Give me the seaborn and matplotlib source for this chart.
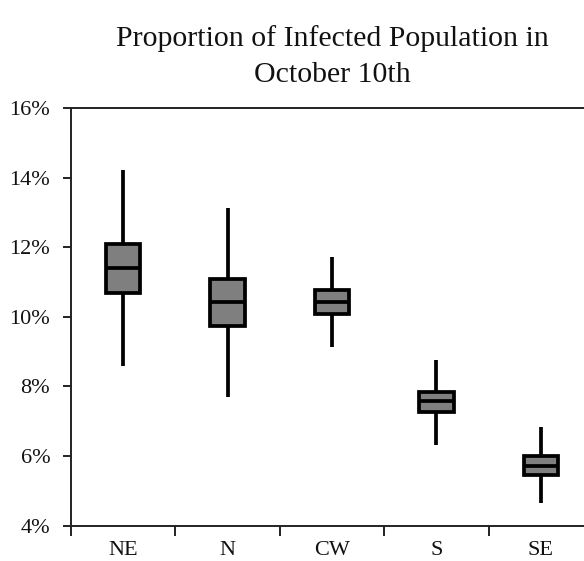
import matplotlib
matplotlib.use("Agg")
import matplotlib.pyplot as plt
import seaborn as sns
import pandas as pd
from matplotlib.ticker import FixedLocator, FuncFormatter

# Data (percent): five-number summaries
regions = ["NE", "N", "CW", "S", "SE"]
whisker_low = [8.60, 7.70, 9.14, 6.32, 4.64]
q1 = [10.67, 9.74, 10.08, 7.26, 5.45]
median = [11.41, 10.42, 10.43, 7.57, 5.72]
q3 = [12.09, 11.10, 10.77, 7.84, 6.00]
whisker_high = [14.22, 13.13, 11.71, 8.77, 6.82]
y_ticks = [4, 6, 8, 10, 12, 14, 16]
title = "Proportion of Infected Population in\nOctober 10th"

rows = []
for i, r in enumerate(regions):
    for v in (whisker_low[i], q1[i], median[i], q3[i], whisker_high[i]):
        rows.append({"region": r, "value": v})
df = pd.DataFrame(rows)

sns.set_style("white")
plt.rcParams["font.family"] = ["Liberation Serif", "DejaVu Serif"]

fig = plt.figure(figsize=(5.84, 5.61), dpi=100)
ax = fig.add_axes([71 / 584, 1 - 525.6 / 561, 522 / 584, (525.6 - 108) / 561])

lw = 2.7
sns.boxplot(data=df, x="region", y="value", order=regions, whis=(0, 100),
            width=0.33, color="#7f7f7f", saturation=1, linewidth=lw,
            linecolor="black", showcaps=False, showfliers=False, ax=ax,
            medianprops=dict(color="black", linewidth=lw),
            whiskerprops=dict(color="black", linewidth=lw),
            boxprops=dict(edgecolor="black", linewidth=lw))

ax.set_xlim(-0.5, len(regions) - 0.5)
ax.set_ylim(y_ticks[0], y_ticks[-1])
ax.yaxis.set_major_locator(FixedLocator(y_ticks))
ax.yaxis.set_major_formatter(FuncFormatter(lambda v, p: f"{v:.0f}%"))
ax.set_xlabel("")
ax.set_ylabel("")

ax.set_xticks(range(len(regions)))
ax.set_xticklabels(regions)
ax.set_xticks([i - 0.5 for i in range(len(regions) + 1)], minor=True)
ax.tick_params(axis="x", which="major", length=0, pad=11, labelsize=16, colors="#111111")
ax.tick_params(axis="x", which="minor", length=7, width=1.4, direction="out", color="#222222", bottom=True)
ax.tick_params(axis="y", which="major", length=6, width=1.4, direction="out", pad=9,
               labelsize=16, colors="#111111", left=True)
ax.tick_params(axis="y", colors="#222222")
for lbl in ax.get_yticklabels():
    lbl.set_color("#111111")

for s in ax.spines.values():
    s.set_visible(True)
    s.set_color("#222222")
    s.set_linewidth(1.4)

ax.set_title(title, fontsize=21.5, color="#111111", pad=19, linespacing=1.5)

fig.savefig("out.png", dpi=100)
